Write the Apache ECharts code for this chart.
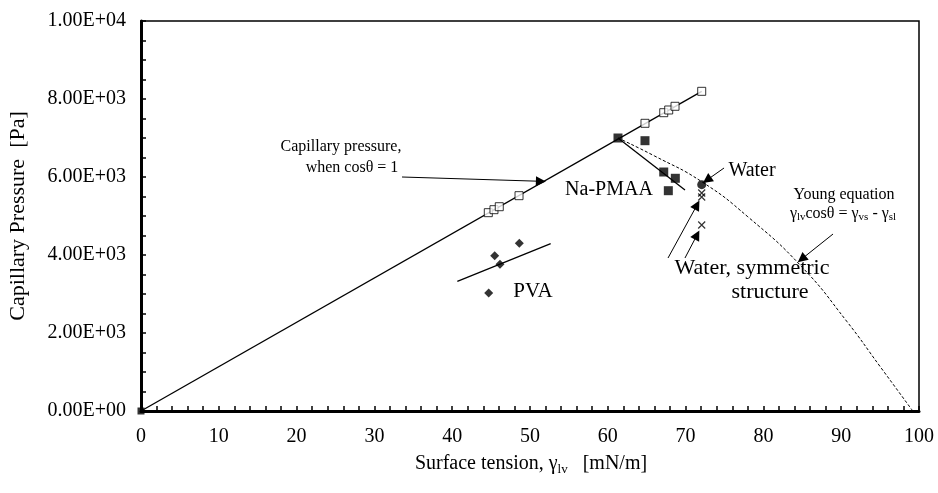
<!DOCTYPE html>
<html><head><meta charset="utf-8">
<script src="https://cdn.jsdelivr.net/npm/echarts@6/dist/echarts.min.js"></script>
<style>html,body{margin:0;padding:0;background:#fff}#c{width:938px;height:493px}</style>
</head><body><div id="c"></div>
<script>
// ---- data ----
const cosOneLine = [[0, 0], [72.07, 8197]];
const openSqX = [44.64, 45.37, 46.05, 48.59, 64.78, 67.19, 67.83, 68.64, 72.07];
const openSqY = [5085, 5162, 5238, 5521, 7377, 7649, 7718, 7813, 8197];
const naX = [61.31, 64.78, 67.19, 68.68, 67.78];
const naY = [7000, 6931, 6128, 5967, 5649];
const naFit = [[61.31, 7000], [69.92, 5667]];
const waterX = [72.07];
const waterY = [5803];
const symX = [72.07, 72.07, 72.07];
const symY = [5590, 5487, 4769];
const pvaX = [48.63, 45.46, 46.14, 44.69];
const pvaY = [4300, 3982, 3761, 3026];
const pvaFit = [[40.66, 3326], [52.66, 4290]];
const youngX = [61.31, 66, 72.07, 78, 84.92, 90.71, 95, 99.2];
const youngY = [7000, 6540, 5880, 4980, 3700, 2300, 1140, 0];
const originPt = [[0, 0]];
const xTicks = [0, 10, 20, 30, 40, 50, 60, 70, 80, 90, 100];
const yTicks = [0, 2000, 4000, 6000, 8000, 10000];
// arrows: [startX, startY, endX, endY] in data units
const arrows = [
  [33.55, 6000, 51.4, 5890],
  [74.94, 6231, 72.75, 5923],
  [67.74, 3923, 71.47, 5282],
  [69.92, 3923, 71.47, 4513],
  [88.95, 4538, 84.92, 3897]
];

const FF = '"Liberation Serif","Times New Roman",serif';
function sci(v) {
  if (v === 0) return '0.00E+00';
  const e = Math.floor(Math.log10(v) + 1e-9);
  const m = v / Math.pow(10, e);
  return m.toFixed(2) + 'E+' + String(e).padStart(2, '0');
}
const zip = (xs, ys) => xs.map((x, i) => [x, ys[i]]);

const chart = echarts.init(document.getElementById('c'), null, {renderer: 'canvas'});
const sub = (fs, fsSub, lh) => ({
  a: {fontSize: fs, fontFamily: FF, color: '#000', lineHeight: lh, verticalAlign: 'middle'},
  s: {fontSize: fsSub, fontFamily: FF, color: '#000', lineHeight: fsSub, verticalAlign: 'bottom'}
});

chart.setOption({
  animation: false,
  backgroundColor: '#fff',
  grid: {left: 141, right: 19, top: 21, bottom: 82, show: true, borderColor: '#000', borderWidth: 1.5},
  xAxis: {
    type: 'value', min: 0, max: 100, interval: 10,
    axisLine: {lineStyle: {color: '#000', width: 3}},
    axisTick: {inside: true, length: 5, lineStyle: {color: '#000', width: 1.5}},
    minorTick: {show: true, splitNumber: 5, length: 5, lineStyle: {color: '#000', width: 1.5}},
    splitLine: {show: false},
    axisLabel: {fontFamily: FF, fontSize: 20, color: '#000', margin: 16}
  },
  yAxis: {
    type: 'value', min: 0, max: 10000, interval: 2000,
    axisLine: {show: true, lineStyle: {color: '#000', width: 3}},
    axisTick: {show: true, inside: true, length: 5, lineStyle: {color: '#000', width: 1.5}},
    minorTick: {show: true, splitNumber: 4, length: 5, lineStyle: {color: '#000', width: 1.5}},
    splitLine: {show: false},
    axisLabel: {fontFamily: FF, fontSize: 20, color: '#000', margin: 15, formatter: sci}
  },
  series: [
    {type: 'line', data: cosOneLine, symbol: 'none', lineStyle: {color: '#000', width: 1.3}, z: 2,
     markLine: {silent: true, symbol: ['none', 'path://M5,0L10,13L0,13Z'], symbolSize: 10,
       symbolKeepAspect: false, label: {show: false},
       itemStyle: {color: '#000'},
       lineStyle: {color: '#000', width: 1, type: 'solid'},
       data: arrows.map(a => [{coord: [a[0], a[1]]}, {coord: [a[2], a[3]]}])}},
    {type: 'line', data: naFit, symbol: 'none', lineStyle: {color: '#000', width: 1.3}},
    {type: 'line', data: pvaFit, symbol: 'none', lineStyle: {color: '#000', width: 1.3}},
    {type: 'line', data: zip(youngX, youngY), symbol: 'none', smooth: true,
     lineStyle: {color: '#000', width: 1, type: [3, 2]}},
    {type: 'scatter', data: zip(openSqX, openSqY), symbol: 'rect', symbolSize: 8,
     itemStyle: {color: '#fff', borderColor: '#000', borderWidth: 1}, z: 5},
    {type: 'scatter', data: zip(naX, naY), symbol: 'rect', symbolSize: 9, itemStyle: {color: '#000'}, z: 5},
    {type: 'scatter', data: zip(waterX, waterY), symbol: 'circle', symbolSize: 9, itemStyle: {color: '#000'}, z: 5},
    {type: 'scatter', data: zip(symX, symY), symbol: 'path://M0,0L10,10M10,0L0,10', symbolSize: 7,
     itemStyle: {color: 'none', borderColor: '#000', borderWidth: 1.2}, z: 5},
    {type: 'scatter', data: zip(pvaX, pvaY), symbol: 'diamond', symbolSize: 9, itemStyle: {color: '#000'}, z: 5},
    {type: 'scatter', data: originPt, symbol: 'rect', symbolSize: 7, itemStyle: {color: '#000'}, z: 5}
  ],
  graphic: [
    {type: 'text', x: 18, y: 216, rotation: Math.PI / 2, style: {text: 'Capillary Pressure  [Pa]', font: '22px ' + FF, fill: '#000', align: 'center', verticalAlign: 'middle'}},
    {type: 'text', x: 531, y: 464, style: {text: '{a|Surface tension, γ}{s|lv}{a|   [mN/m]}', rich: sub(20, 13, 24), align: 'center', verticalAlign: 'middle'}},
    {type: 'text', x: 341, y: 147, style: {text: 'Capillary pressure,', font: '16px ' + FF, fill: '#000', align: 'center', verticalAlign: 'middle'}},
    {type: 'text', x: 352, y: 168, style: {text: 'when cosθ = 1', font: '16px ' + FF, fill: '#000', align: 'center', verticalAlign: 'middle'}},
    {type: 'text', x: 609, y: 190, style: {text: 'Na-PMAA', font: '20px ' + FF, fill: '#000', align: 'center', verticalAlign: 'middle'}},
    {type: 'text', x: 752, y: 171, style: {text: 'Water', font: '20px ' + FF, fill: '#000', align: 'center', verticalAlign: 'middle'}},
    {type: 'text', x: 752, y: 268, style: {text: 'Water, symmetric', font: '22px ' + FF, fill: '#000', align: 'center', verticalAlign: 'middle'}},
    {type: 'text', x: 770, y: 292, style: {text: 'structure', font: '22px ' + FF, fill: '#000', align: 'center', verticalAlign: 'middle'}},
    {type: 'text', x: 533, y: 291, style: {text: 'PVA', font: '21px ' + FF, fill: '#000', align: 'center', verticalAlign: 'middle'}},
    {type: 'text', x: 844, y: 195, style: {text: 'Young equation', font: '16px ' + FF, fill: '#000', align: 'center', verticalAlign: 'middle'}},
    {type: 'text', x: 843, y: 214, style: {text: '{a|γ}{s|lv}{a|cosθ = γ}{s|vs}{a| - γ}{s|sl}', rich: sub(16, 11, 18), align: 'center', verticalAlign: 'middle'}}
  ]
});
</script></body></html>
